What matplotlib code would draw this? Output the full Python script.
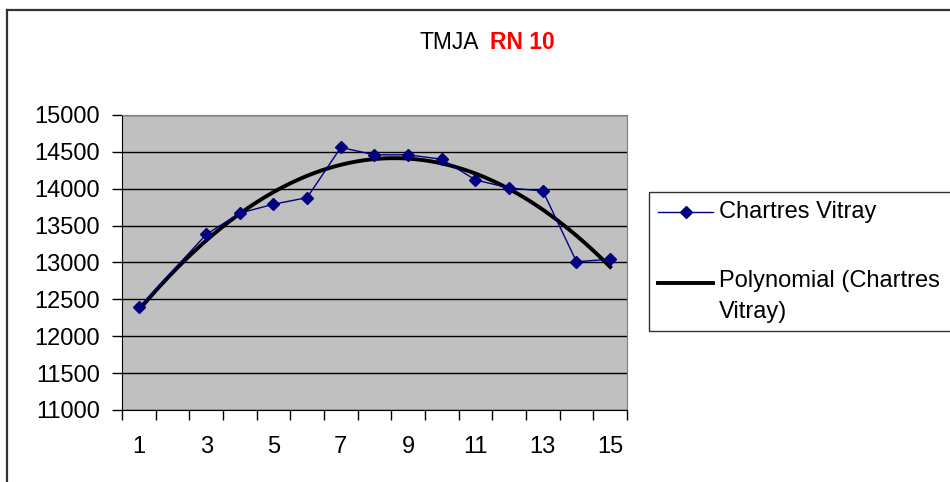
import numpy as np
import matplotlib.pyplot as plt
from matplotlib.lines import Line2D
from matplotlib.patches import Rectangle

plt.rcParams['font.family'] = ['Liberation Sans', 'DejaVu Sans']

# data (point 2 has no value in the source)
x = [1, 3, 4, 5, 6, 7, 8, 9, 10, 11, 12, 13, 14, 15]
y = [12390, 13380, 13670, 13790, 13880, 14560, 14460, 14460, 14400, 14120, 14010, 13970, 13010, 13045]
yticks = [11000, 11500, 12000, 12500, 13000, 13500, 14000, 14500, 15000]
xlabels = [1, 3, 5, 7, 9, 11, 13, 15]

W, H = 950, 482
fig = plt.figure(figsize=(9.5, 4.82), dpi=100)
ax = fig.add_axes([122 / W, 1 - 410 / H, (627 - 122) / W, (410 - 115) / H])
ax.set_facecolor('#C0C0C0')

# polynomial trendline (order 2, like the Excel trendline)
coef = np.polyfit(x, y, 2)
xt = np.linspace(1, 15, 200)
ax.plot(xt, np.polyval(coef, xt), color='black', lw=2.8, zorder=3)
ax.plot(x, y, color='#000080', lw=1.0, marker='D', ms=6.5, zorder=4)

ax.set_xlim(0.5, 15.5)
ax.set_ylim(11000, 15000)
ax.set_yticks(yticks)
ax.tick_params(axis='y', length=7, width=1, pad=9, labelsize=17)
ax.set_xticks(xlabels)
ax.set_xticklabels([str(v) for v in xlabels])
ax.set_xticks(np.arange(0.5, 16, 1), minor=True)
ax.tick_params(axis='x', which='major', length=0, pad=19, labelsize=17)
ax.tick_params(axis='x', which='minor', length=7, width=1)
ax.grid(axis='y', color='black', lw=1)
ax.set_axisbelow(True)
for s in ['top', 'right']:
    ax.spines[s].set_color('#808080')
for s in ['left', 'bottom']:
    ax.spines[s].set_color('black')

# chart border
fig.add_artist(Line2D([7 / W, 7 / W], [0, 1 - 10 / H], color='#333333', lw=1.6))
fig.add_artist(Line2D([7 / W, 1], [1 - 10 / H, 1 - 10 / H], color='#333333', lw=1.6))

# title
fig.text(420 / W, 1 - 49 / H, 'TMJA', fontsize=16.5, va='baseline')
fig.text(490 / W, 1 - 49 / H, 'RN 10', fontsize=16.5, va='baseline', color='red', fontweight='bold')

# legend
fig.add_artist(Rectangle((649 / W, 1 - 331 / H), 320 / W, 139 / H, transform=fig.transFigure,
                         facecolor='white', edgecolor='#333333', lw=1))
fig.add_artist(Line2D([658 / W, 713 / W], [1 - 212 / H] * 2, color='#000080', lw=1.0))
fig.add_artist(Line2D([685.5 / W], [1 - 212 / H], color='#000080', marker='D', ms=6.5))
fig.text(719 / W, 1 - 212 / H, 'Chartres Vitray', fontsize=17, va='center')
fig.add_artist(Line2D([658 / W, 713 / W], [1 - 283 / H] * 2, color='black', lw=2.8))
fig.text(719 / W, 1 - 281 / H, 'Polynomial (Chartres', fontsize=17, va='center')
fig.text(719 / W, 1 - 312 / H, 'Vitray)', fontsize=17, va='center')

fig.savefig('out.png', dpi=100)
